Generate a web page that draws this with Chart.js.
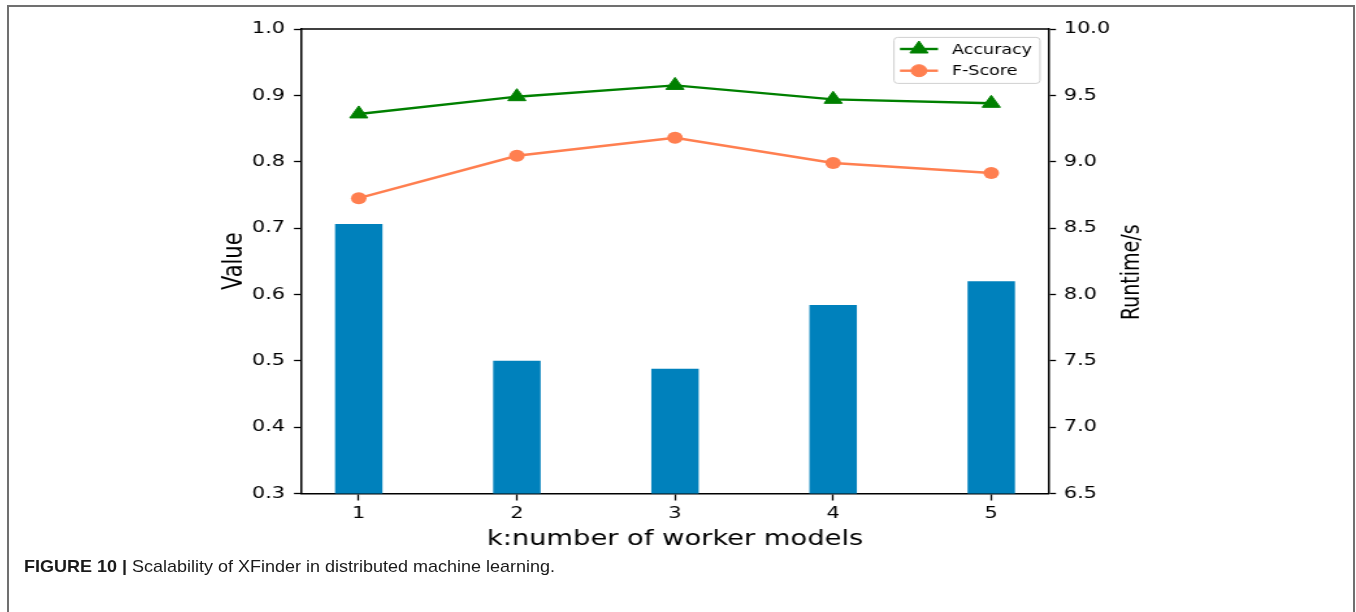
<!DOCTYPE html>
<html>
<head>
<meta charset="utf-8">
<script src="https://cdn.jsdelivr.net/npm/chart.js@4.4.1/dist/chart.umd.min.js"></script>
<style>
  html, body { margin: 0; padding: 0; background: #fff; }
  body { width: 1356px; height: 612px; position: relative; overflow: hidden; }
  #frame { position: absolute; left: 7px; top: 5px; width: 1348px; height: 700px;
           border: 2px solid #707070; box-sizing: border-box; }
  #c { position: absolute; left: 0; top: 0; transform-origin: 0 0; }
  #caption { position: absolute; left: 24px; top: 557px; white-space: nowrap;
             font-family: "Liberation Sans Narrow", "Liberation Sans", Arial, sans-serif;
             font-size: 17px; line-height: 20px; color: #1a1a1a; transform-origin: 0 0; }
  #caption b { font-weight: bold; }
</style>
</head>
<body>
<div id="frame"></div>
<canvas id="c"></canvas>
<div id="caption"><b>FIGURE 10 |</b> Scalability of XFinder in distributed machine learning.</div>
<script>
// ---- data ----
const categories = [1, 2, 3, 4, 5];
const accuracy = [0.872, 0.898, 0.915, 0.894, 0.888];
const fscore = [0.745, 0.809, 0.836, 0.798, 0.783];
const runtime = [8.53, 7.50, 7.44, 7.92, 8.10];
const leftTicks = [0.3, 0.4, 0.5, 0.6, 0.7, 0.8, 0.9, 1.0];
const rightTicks = [6.5, 7.0, 7.5, 8.0, 8.5, 9.0, 9.5, 10.0];
const xTitle = 'k:number of worker models';
const yTitle = 'Value';
const y1Title = 'Runtime/s';

// ---- layout ----
const S = 1.3;               // horizontal stretch of the reference figure
const W = 1356, H = 612;
const X = v => v / S;        // screen px -> internal canvas px (horizontal)
const canvas = document.getElementById('c');
canvas.width = Math.round(W / S);
canvas.height = H;
canvas.style.width = canvas.width + 'px';
canvas.style.height = H + 'px';
canvas.style.transform = 'scaleX(' + (W / canvas.width) + ')';

const FONT = '"DejaVu Sans", sans-serif';
const pts = arr => categories.map((c, i) => ({ x: c, y: arr[i] }));

const spinePlugin = {
  id: 'spines',
  afterDatasetsDraw(chart) {
    const { ctx, chartArea: a } = chart;
    ctx.save();
    ctx.strokeStyle = '#000';
    ctx.lineWidth = 1.5;
    ctx.beginPath();
    ctx.moveTo(a.left, a.top);
    ctx.lineTo(a.right, a.top);
    ctx.stroke();
    ctx.restore();
  },
  afterDraw(chart) {
    const { ctx, chartArea: a } = chart;
    // right axis title (reads bottom to top)
    ctx.save();
    ctx.translate(X(1133), (a.top + a.bottom) / 2 + 11);
    ctx.rotate(-Math.PI / 2);
    ctx.fillStyle = '#000';
    ctx.font = '19px ' + FONT;
    ctx.textAlign = 'center';
    ctx.textBaseline = 'middle';
    ctx.fillText(y1Title, 0, 0);
    ctx.restore();

    // legend
    const bw = X(146), bh = 46;
    const bx = a.right - X(9) - bw, by = a.top + 8.4;
    ctx.save();
    ctx.fillStyle = 'rgba(255,255,255,0.85)';
    ctx.strokeStyle = '#d0d0d0';
    ctx.lineWidth = 1;
    ctx.beginPath();
    if (ctx.roundRect) ctx.roundRect(bx, by, bw, bh, 3); else ctx.rect(bx, by, bw, bh);
    ctx.fill();
    ctx.stroke();
    const items = [
      { text: 'Accuracy', color: '#008000', style: 'triangle', r: 8, y: by + 11.6 },
      { text: 'F-Score', color: '#FF7F50', style: 'circle', r: 6, y: by + 33.3 }
    ];
    items.forEach(it => {
      ctx.strokeStyle = it.color;
      ctx.fillStyle = it.color;
      ctx.lineWidth = 2.4;
      ctx.beginPath();
      ctx.moveTo(bx + X(6), it.y);
      ctx.lineTo(bx + X(44), it.y);
      ctx.stroke();
      ctx.lineWidth = 1;
      Chart.helpers.drawPoint(ctx, { pointStyle: it.style, radius: it.r, rotation: 0, borderWidth: 1 }, bx + X(25), it.y);
      ctx.fillStyle = '#000';
      ctx.font = '13.5px ' + FONT;
      ctx.textBaseline = 'middle';
      ctx.textAlign = 'left';
      ctx.fillText(it.text, bx + X(58), it.y + 1);
    });
    ctx.restore();
  }
};

new Chart(canvas, {
  data: {
    datasets: [
      {
        type: 'line', label: 'Accuracy', data: pts(accuracy), yAxisID: 'y', order: 1,
        borderColor: '#008000', backgroundColor: '#008000', borderWidth: 2.4,
        pointStyle: 'triangle', pointRadius: 8, pointBorderWidth: 1, pointHoverRadius: 8,
        tension: 0
      },
      {
        type: 'line', label: 'F-Score', data: pts(fscore), yAxisID: 'y', order: 2,
        borderColor: '#FF7F50', backgroundColor: '#FF7F50', borderWidth: 2.4,
        pointStyle: 'circle', pointRadius: 6, pointBorderWidth: 0, pointHoverRadius: 6,
        tension: 0
      },
      {
        type: 'bar', label: 'Runtime', data: pts(runtime), yAxisID: 'y1', order: 3,
        backgroundColor: '#0081BC', borderWidth: 0,
        barPercentage: 0.3, categoryPercentage: 1.0
      }
    ]
  },
  options: {
    responsive: false,
    animation: false,
    devicePixelRatio: 1,
    layout: { padding: { left: X(218), right: X(210), top: 29, bottom: 60 } },
    plugins: { legend: { display: false }, tooltip: { enabled: false } },
    scales: {
      x: {
        type: 'linear', position: 'bottom', min: 0.635, max: 5.365, offset: false,
        afterBuildTicks: s => { s.ticks = categories.map(v => ({ value: v })); },
        afterFit: s => { s.height = 58.5; },
        ticks: { font: { family: FONT, size: 16 }, color: '#000', padding: 4,
                 callback: v => String(v), maxRotation: 0, autoSkip: false },
        grid: { display: true, offset: false, drawOnChartArea: false, drawTicks: true, tickLength: 7, color: '#000', tickWidth: 1.3 },
        border: { display: true, color: '#000', width: 1.5 },
        title: { display: true, text: xTitle, color: '#000', font: { family: FONT, size: 21 }, padding: 0 }
      },
      y: {
        type: 'linear', position: 'left', min: 0.3, max: 1.0,
        afterBuildTicks: s => { s.ticks = leftTicks.map(v => ({ value: v })); },
        afterFit: s => { s.width = X(301) - X(218); },
        ticks: { font: { family: FONT, size: 16 }, color: '#000', padding: 7,
                 callback: v => Number(v).toFixed(1) },
        grid: { display: true, drawOnChartArea: false, drawTicks: true, tickLength: X(7), color: '#000', tickWidth: 1.3 },
        border: { display: true, color: '#000', width: 1.5 },
        title: { display: true, text: yTitle, color: '#000', font: { family: FONT, size: 21 }, padding: 0 }
      },
      y1: {
        type: 'linear', position: 'right', min: 6.5, max: 10.0,
        afterBuildTicks: s => { s.ticks = rightTicks.map(v => ({ value: v })); },
        afterFit: s => { s.width = X(1146) - X(1049); },
        ticks: { font: { family: FONT, size: 16 }, color: '#000', padding: 6,
                 callback: v => Number(v).toFixed(1) },
        grid: { display: true, drawOnChartArea: false, drawTicks: true, tickLength: X(7), color: '#000', tickWidth: 1.3 },
        border: { display: true, color: '#000', width: 1.5 },
        title: { display: false }
      }
    }
  },
  plugins: [spinePlugin]
});

// fit caption width to the reference
const cap = document.getElementById('caption');
const cw = cap.getBoundingClientRect().width;
cap.style.transform = 'scaleX(' + (531 / cw) + ')';
</script>
</body>
</html>
